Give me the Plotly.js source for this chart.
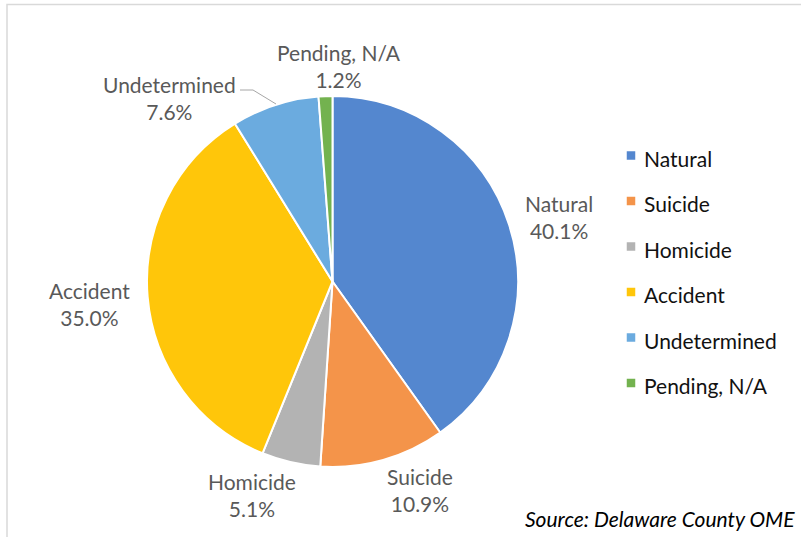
<!DOCTYPE html>
<html>
<head>
<meta charset="utf-8">
<script src="https://cdn.plot.ly/plotly-3.0.1.min.js"></script>
<style>html,body{margin:0;padding:0;background:#fff;}#chart{width:801px;height:537px;}</style>
</head>
<body>
<div id="chart"></div>
<script>
// ---- data ----
const categories = ["Natural", "Suicide", "Homicide", "Accident", "Undetermined", "Pending, N/A"];
const shares = [40.1, 10.9, 5.1, 35.0, 7.6, 1.2];
const sourceNote = "Source: Delaware County OME";

// ---- styling / layout constants ----
const colors = ["#5487CF", "#F4944A", "#B3B3B3", "#FFC60A", "#6BABDF", "#73B24F"];
const W = 801, H = 537;
const px = x => x / W;
const py = y => 1 - y / H;
const FONT = "Lato, 'Open Sans', sans-serif";
const FS = 21;
// label anchor points (pixel) for the outside data labels
const labelPos = [[559, 216.5], [420, 489.5], [252, 495], [89, 303.5], [169, 98], [339, 66.5]];
// legend geometry
const legX = 631, legY0 = 155.5, legStep = 45.5, legSw = 8.5;

const total = shares.reduce((a, b) => a + b, 0);

const trace = {
  type: "pie",
  values: shares,
  labels: categories,
  sort: false,
  direction: "clockwise",
  rotation: 0,
  textinfo: "none",
  hovertemplate: "%{label}: %{percent}<extra></extra>",
  marker: { colors: colors, line: { color: "#ffffff", width: 2 } },
  domain: { x: [px(147), px(518)], y: [py(467), py(96)] },
  showlegend: false
};

const annotations = [];
const shapes = [];

categories.forEach((c, i) => {
  const pct = (shares[i] / total * 100).toFixed(1) + "%";
  annotations.push({
    xref: "paper", yref: "paper", x: px(labelPos[i][0]), y: py(labelPos[i][1]),
    xanchor: "center", yanchor: "middle", showarrow: false, align: "center",
    text: c + "<br>" + pct,
    font: { family: FONT, size: FS, color: "#595959" }
  });
  // legend entry
  const ly = legY0 + i * legStep;
  shapes.push({
    type: "rect", xref: "paper", yref: "paper",
    x0: px(legX - legSw / 2), x1: px(legX + legSw / 2),
    y0: py(ly + legSw / 2), y1: py(ly - legSw / 2),
    fillcolor: colors[i], line: { width: 0 }
  });
  annotations.push({
    xref: "paper", yref: "paper", x: px(legX + 11), y: py(ly + 2.5),
    xanchor: "left", yanchor: "middle", showarrow: false,
    text: c, font: { family: FONT, size: FS, color: "#111111" }
  });
});

// leader line for the Undetermined label
shapes.push({
  type: "path", xref: "paper", yref: "paper",
  path: "M " + px(240) + " " + py(90) + " L " + px(253) + " " + py(90) + " L " + px(276) + " " + py(104),
  line: { color: "#A6A6A6", width: 1 }
});

// chart frame
shapes.push({
  type: "rect", xref: "paper", yref: "paper",
  x0: px(7), x1: 1.02, y0: -0.02, y1: py(4.5),
  line: { color: "#D9D9D9", width: 1.5 }, fillcolor: "rgba(0,0,0,0)", layer: "below"
});

// source note
annotations.push({
  xref: "paper", yref: "paper", x: px(797), y: py(518),
  xanchor: "right", yanchor: "middle", showarrow: false,
  text: "<i>" + sourceNote + "</i>",
  font: { family: FONT, size: FS, color: "#000000" }
});

const layout = {
  width: W, height: H,
  margin: { l: 0, r: 0, t: 0, b: 0 },
  paper_bgcolor: "#ffffff",
  showlegend: false,
  annotations: annotations,
  shapes: shapes
};

Plotly.newPlot("chart", [trace], layout, { displayModeBar: false, staticPlot: true });
</script>
</body>
</html>
